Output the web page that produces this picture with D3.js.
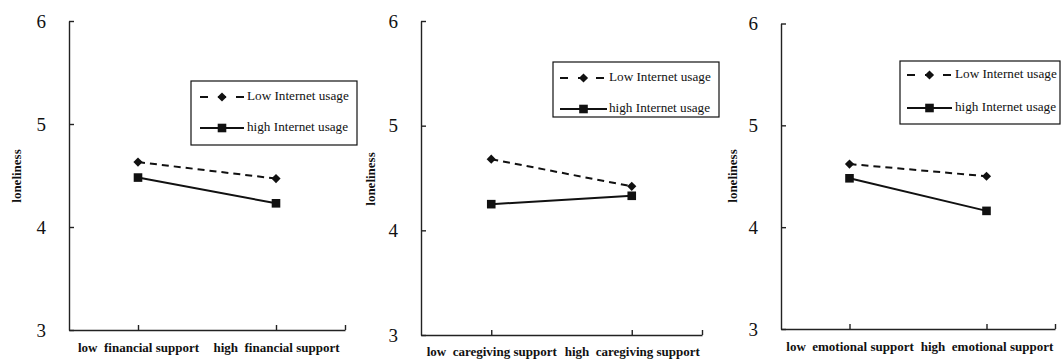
<!DOCTYPE html>
<html>
<head>
<meta charset="utf-8">
<script src="https://cdn.jsdelivr.net/npm/d3@7"></script>
<style>
  html, body { margin: 0; padding: 0; background: #fff; }
  svg { display: block; }
</style>
</head>
<body>
<svg id="chart" width="1061" height="363"></svg>
<script>
// ---- data ----
const seriesNames = ["Low Internet usage", "high Internet usage"];
const supportTypes = ["financial support", "caregiving support", "emotional support"];
const levelLabels = ["low", "high"];
const lowUsageValues = [[4.63, 4.47], [4.68, 4.42], [4.62, 4.50]];
const highUsageValues = [[4.48, 4.23], [4.25, 4.33], [4.48, 4.16]];
const yTicks = [3, 4, 5, 6];
const yLabel = "loneliness";

// ---- layout (per panel) ----
const panels = [
  { x0: 69,  x1: 345,  yTop: 21, yBot: 330, xPad: 13, yLab: [16, 176],
    legend: { x: 191, y: 81, w: 166, h: 64, rows: [97, 128], lx: 200, lw: 44, tx: 247 } },
  { x0: 421, x1: 702,  yTop: 21, yBot: 335, xPad: 11.5, yLab: [370, 179],
    legend: { x: 553, y: 62, w: 166, h: 55, rows: [78, 109], lx: 560, lw: 47, tx: 609 } },
  { x0: 781, x1: 1055, yTop: 23.5, yBot: 329, xPad: 12.5, yLab: [732, 176],
    legend: { x: 900, y: 61, w: 160, h: 63, rows: [75, 108], lx: 907, lw: 45, tx: 955 } }
];

const FONT = '"Liberation Serif"';
const svg = d3.select("#chart");
const diamondPath = (r) => `M0,${-r}L${r},0L0,${r}L${-r},0Z`;
const squarePath = (h) => `M${-h},${-h}H${h}V${h}H${-h}Z`;
const styles = [
  { dash: "7,5", legendDash: "8,10", sym: diamondPath(4.6) },
  { dash: null, legendDash: null, sym: squarePath(4.3) }
];

panels.forEach((p, i) => {
  const g = svg.append("g");
  const y = d3.scaleLinear().domain([3, 6]).range([p.yBot, p.yTop]);
  const x = d3.scaleLinear().domain([0, 2]).range([p.x0, p.x1]);
  const tickLabels = levelLabels.map(l => l + "  " + supportTypes[i]);

  // y axis
  const ya = g.append("g").attr("transform", `translate(${p.x0},0)`)
    .call(d3.axisLeft(y).tickValues(yTicks).tickFormat(d3.format("d"))
      .tickSizeInner(-5).tickSizeOuter(0).tickPadding(23));
  ya.attr("font-family", null).attr("font-size", null);
  ya.select(".domain").attr("stroke", "#222").attr("stroke-width", 1.4);
  ya.selectAll(".tick line").attr("stroke", "#222").attr("stroke-width", 1.4);
  ya.selectAll(".tick text").style("font-size", "19px").style("font-family", FONT).attr("fill", "#111");

  // x axis
  const xa = g.append("g").attr("transform", `translate(0,${p.yBot})`)
    .call(d3.axisBottom(x).tickValues([0.5, 1.5, 2])
      .tickFormat(d => d === 0.5 ? tickLabels[0] : d === 1.5 ? tickLabels[1] : "")
      .tickSizeInner(-5).tickSizeOuter(0).tickPadding(p.xPad));
  xa.attr("font-family", null).attr("font-size", null);
  xa.select(".domain").attr("stroke", "#222").attr("stroke-width", 1.4);
  xa.selectAll(".tick line").attr("stroke", "#222").attr("stroke-width", 1.4);
  xa.selectAll(".tick text").style("font-size", "13px").style("font-weight", "bold")
    .style("font-family", FONT).attr("fill", "#111")
    .style("white-space", "pre");

  // y label
  g.append("text")
    .attr("transform", `translate(${p.yLab[0]},${p.yLab[1]}) rotate(-90)`)
    .attr("text-anchor", "middle").attr("dy", "0.35em").attr("fill", "#111")
    .style("font-size", "13px").style("font-weight", "bold").style("font-family", FONT)
    .text(yLabel);

  // series
  const seriesData = [lowUsageValues[i], highUsageValues[i]];
  const line = d3.line().x((d, j) => x(0.5 + j)).y(d => y(d));
  seriesData.forEach((vals, s) => {
    g.append("path").datum(vals).attr("d", line)
      .attr("fill", "none").attr("stroke", "#111").attr("stroke-width", 2)
      .attr("stroke-dasharray", styles[s].dash);
    g.selectAll(null).data(vals).join("path")
      .attr("transform", (d, j) => `translate(${x(0.5 + j)},${y(d)})`)
      .attr("d", styles[s].sym).attr("fill", "#111");
  });

  // legend
  const L = p.legend;
  const lg = g.append("g");
  lg.append("rect").attr("x", L.x).attr("y", L.y).attr("width", L.w).attr("height", L.h)
    .attr("fill", "#fff").attr("stroke", "#111").attr("stroke-width", 1.2);
  seriesNames.forEach((name, s) => {
    const ry = L.rows[s];
    lg.append("line").attr("x1", L.lx).attr("x2", L.lx + L.lw).attr("y1", ry).attr("y2", ry)
      .attr("stroke", "#111").attr("stroke-width", 2)
      .attr("stroke-dasharray", styles[s].legendDash);
    lg.append("path").attr("transform", `translate(${L.lx + L.lw / 2},${ry})`)
      .attr("d", styles[s].sym).attr("fill", "#111");
    lg.append("text").attr("x", L.tx).attr("y", ry).attr("dy", "0.25em").attr("fill", "#111")
      .style("font-size", "13.2px").style("font-family", FONT).text(name);
  });
});
</script>
</body>
</html>
